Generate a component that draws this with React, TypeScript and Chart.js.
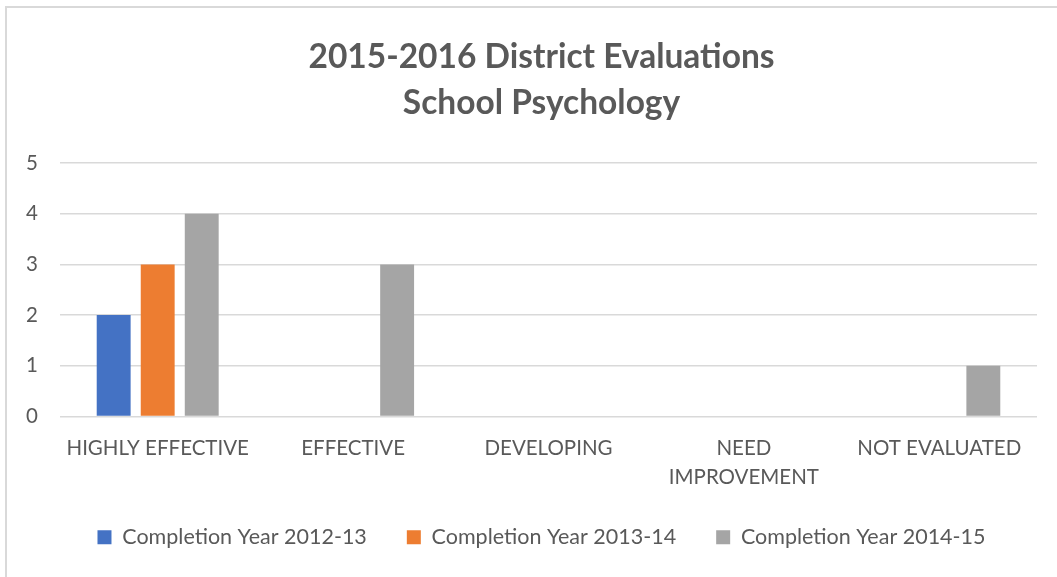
import React, { useEffect, useRef } from "react";
import { Chart, registerables } from "chart.js";

Chart.register(...registerables);

const categories: (string | string[])[] = [
  "HIGHLY EFFECTIVE",
  "EFFECTIVE",
  "DEVELOPING",
  ["NEED", "IMPROVEMENT"],
  "NOT EVALUATED",
];
const series2012 = [2, 0, 0, 0, 0];
const series2013 = [3, 0, 0, 0, 0];
const series2014 = [4, 3, 0, 0, 1];
const seriesLabels = [
  "Completion Year 2012-13",
  "Completion Year 2013-14",
  "Completion Year 2014-15",
];
const titleLines = ["2015-2016 District Evaluations", "School Psychology"];

const TEXT = "#595959";
const FONT = "Lato, 'Noto Sans', sans-serif";

export default function App() {
  const ref = useRef<HTMLCanvasElement | null>(null);
  useEffect(() => {
    document.body.style.margin = "0";
    const ctx = ref.current!;
    const chart = new Chart(ctx, {
      type: "bar",
      data: {
        labels: categories,
        datasets: [
          { label: seriesLabels[0], data: series2012, backgroundColor: "#4472C4" },
          { label: seriesLabels[1], data: series2013, backgroundColor: "#ED7D31" },
          { label: seriesLabels[2], data: series2014, backgroundColor: "#A5A5A5" },
        ],
      },
      options: {
        animation: false,
        responsive: false,
        maintainAspectRatio: false,
        layout: { padding: { top: 34, left: 46, right: 20, bottom: 19 } },
        datasets: { bar: { categoryPercentage: 0.676, barPercentage: 0.77 } },
        plugins: {
          tooltip: { enabled: false },
          title: {
            display: true,
            text: titleLines,
            color: TEXT,
            font: { family: FONT, size: 33.5, weight: "bold", lineHeight: 1.373 },
            padding: { top: 0, bottom: 37 },
          },
          legend: {
            position: "bottom",
            labels: {
              color: TEXT,
              font: { family: FONT, size: 21.5 },
              boxWidth: 14,
              boxHeight: 14,
              padding: 40,
            },
          },
        },
        scales: {
          x: {
            grid: { display: false, drawTicks: false },
            border: { display: false },
            ticks: {
              color: TEXT,
              font: { family: FONT, size: 20.5, lineHeight: 1.415 },
              padding: 17,
              maxRotation: 0,
              autoSkip: false,
            },
            afterFit: (s: any) => {
              s.height = 70;
            },
          },
          y: {
            min: 0,
            max: 5,
            grid: { color: "#D9D9D9", lineWidth: 1.5, drawTicks: false },
            border: { display: false },
            ticks: {
              stepSize: 1,
              color: TEXT,
              font: { family: FONT, size: 20.5 },
              mirror: true,
              crossAlign: "far",
              padding: -34,
            },
            afterFit: (s: any) => {
              s.width = 14;
            },
          },
        },
      },
    });
    return () => chart.destroy();
  }, []);
  return (
    <div style={{ position: "relative", width: 1057, height: 577, overflow: "hidden", background: "#fff" }}>
      <div
        style={{
          position: "absolute",
          left: 5,
          top: 6,
          width: 1100,
          height: 620,
          borderTop: "2px solid #D9D9D9",
          borderLeft: "2px solid #D9D9D9",
          boxSizing: "border-box",
        }}
      />
      <canvas ref={ref} width={1057} height={577} style={{ position: "absolute", left: 0, top: 0 }} />
    </div>
  );
}
